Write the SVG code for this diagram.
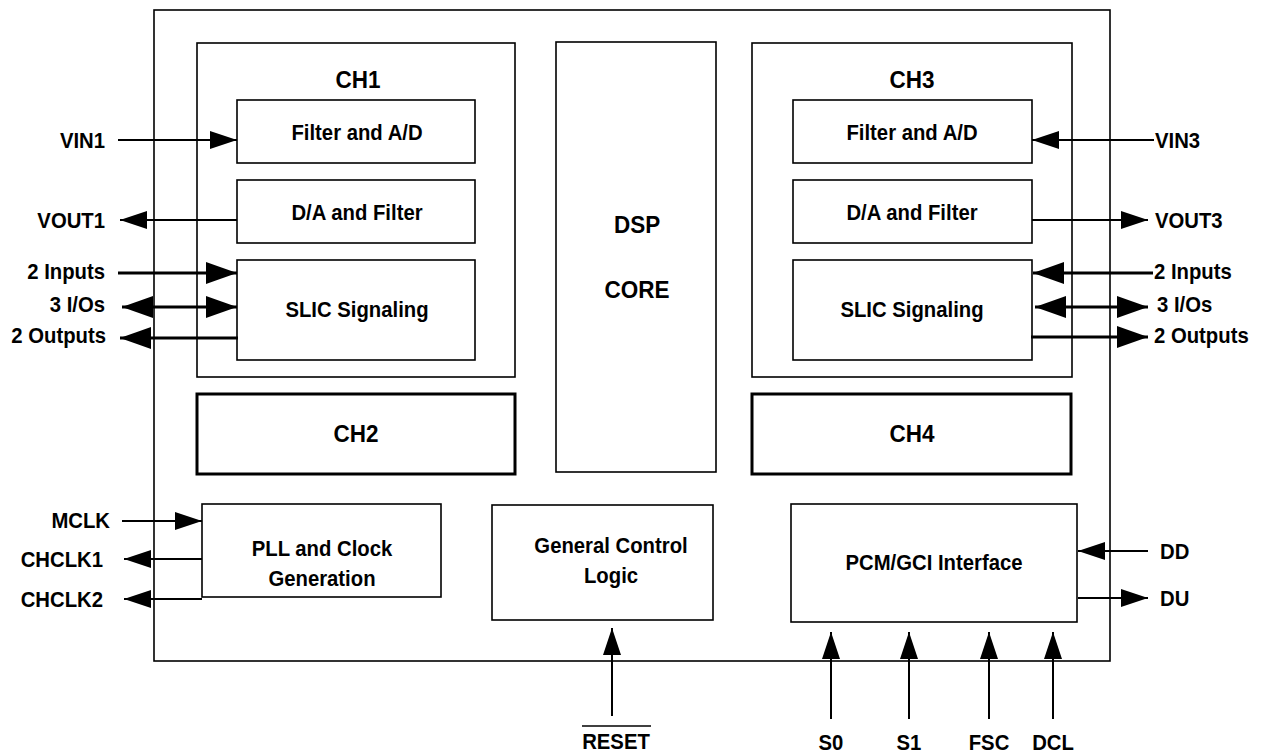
<svg xmlns="http://www.w3.org/2000/svg" width="1270" height="753" viewBox="0 0 1270 753">
<defs>
<style>
.box{fill:#fff;stroke:#000;stroke-width:1.6}
.tbox{fill:#fff;stroke:#000;stroke-width:3}
.t{font-family:"Liberation Sans",Arial,sans-serif;font-weight:bold;font-size:20.3px;fill:#000}
.big{font-size:22.5px}
.c{text-anchor:middle}
.r{text-anchor:end}
.ln{stroke:#000;stroke-width:2;fill:none}
.thk{stroke:#000;stroke-width:3;fill:none}
</style>
<marker id="ah" markerUnits="userSpaceOnUse" markerWidth="28" markerHeight="19" refX="27" refY="9" orient="auto-start-reverse" viewBox="0 0 28 19">
<path d="M0,0 L27,9 L0,18 z" fill="#000"/>
</marker>
<marker id="ahb" markerUnits="userSpaceOnUse" markerWidth="32" markerHeight="23" refX="31" refY="11" orient="auto-start-reverse" viewBox="0 0 32 23">
<path d="M0,0 L31,11 L0,22 z" fill="#000"/>
</marker>
</defs>
<rect width="1270" height="753" fill="#fff"/>

<g id="chip"><rect class="box" x="154" y="10" width="956" height="651"/></g>

<g id="ch1">
<rect class="box" x="197" y="43" width="318" height="334"/>
<text class="t big c" transform="matrix(1,0,0,1.1,358,88)">CH1</text>
</g>
<g id="ch1-filter-ad"><rect class="box" x="237" y="100" width="238" height="63"/><text class="t c" transform="matrix(1,0,0,1.1,357,140)">Filter and A/D</text></g>
<g id="ch1-da-filter"><rect class="box" x="237" y="180" width="238" height="63"/><text class="t c" transform="matrix(1,0,0,1.1,357,220)">D/A and Filter</text></g>
<g id="ch1-slic"><rect class="box" x="237" y="260" width="238" height="100"/><text class="t c" transform="matrix(1,0,0,1.1,357,317)">SLIC Signaling</text></g>

<g id="ch2"><rect class="tbox" x="197" y="394" width="318" height="80"/><text class="t big c" transform="matrix(1,0,0,1.1,356,442)">CH2</text></g>

<g id="dsp"><rect class="box" x="556" y="42" width="160" height="430"/>
<text class="t big c" transform="matrix(1,0,0,1.1,637,233)">DSP</text>
<text class="t big c" transform="matrix(1,0,0,1.1,637,298)">CORE</text></g>

<g id="ch3">
<rect class="box" x="752" y="43" width="320" height="334"/>
<text class="t big c" transform="matrix(1,0,0,1.1,912,88)">CH3</text>
</g>
<g id="ch3-filter-ad"><rect class="box" x="793" y="100" width="239" height="63"/><text class="t c" transform="matrix(1,0,0,1.1,912,140)">Filter and A/D</text></g>
<g id="ch3-da-filter"><rect class="box" x="793" y="180" width="239" height="63"/><text class="t c" transform="matrix(1,0,0,1.1,912,220)">D/A and Filter</text></g>
<g id="ch3-slic"><rect class="box" x="793" y="260" width="239" height="100"/><text class="t c" transform="matrix(1,0,0,1.1,912,317)">SLIC Signaling</text></g>

<g id="ch4"><rect class="tbox" x="752" y="394" width="319" height="80"/><text class="t big c" transform="matrix(1,0,0,1.1,912,442)">CH4</text></g>

<g id="pll"><rect class="box" x="202" y="504" width="239" height="93"/>
<text class="t c" transform="matrix(1,0,0,1.1,322,556)">PLL and Clock</text>
<text class="t c" transform="matrix(1,0,0,1.1,322,586)">Generation</text></g>

<g id="gcl"><rect class="box" x="492" y="505" width="221" height="115"/>
<text class="t c" transform="matrix(1,0,0,1.1,611,553)">General Control</text>
<text class="t c" transform="matrix(1,0,0,1.1,611,583)">Logic</text></g>

<g id="pcm"><rect class="box" x="791" y="504" width="286" height="118"/>
<text class="t c" transform="matrix(1,0,0,1.1,934,570)">PCM/GCI Interface</text></g>

<g id="connectors">
<line class="ln" x1="118" y1="140" x2="237" y2="140" marker-end="url(#ah)"/>
<line class="ln" x1="237" y1="220" x2="120" y2="220" marker-end="url(#ah)"/>
<line class="thk" x1="118" y1="273" x2="237" y2="273" marker-end="url(#ahb)"/>
<line class="thk" x1="122" y1="307" x2="237" y2="307" marker-start="url(#ahb)" marker-end="url(#ahb)"/>
<line class="thk" x1="238" y1="338" x2="120" y2="338" marker-end="url(#ahb)"/>

<line class="ln" x1="1154" y1="140" x2="1032" y2="140" marker-end="url(#ah)"/>
<line class="ln" x1="1032" y1="220" x2="1148" y2="220" marker-end="url(#ah)"/>
<line class="thk" x1="1153" y1="273" x2="1033" y2="273" marker-end="url(#ahb)"/>
<line class="thk" x1="1035" y1="307" x2="1148" y2="307" marker-start="url(#ahb)" marker-end="url(#ahb)"/>
<line class="thk" x1="1031" y1="337" x2="1148" y2="337" marker-end="url(#ahb)"/>

<line class="ln" x1="122" y1="521" x2="202" y2="521" marker-end="url(#ah)"/>
<line class="ln" x1="202" y1="559" x2="124" y2="559" marker-end="url(#ah)"/>
<line class="ln" x1="202" y1="599" x2="124" y2="599" marker-end="url(#ah)"/>

<line class="ln" x1="1148" y1="551" x2="1078" y2="551" marker-end="url(#ah)"/>
<line class="ln" x1="1078" y1="598" x2="1148" y2="598" marker-end="url(#ah)"/>

<line class="ln" x1="612" y1="716" x2="612" y2="628" marker-end="url(#ah)"/>
<line class="ln" x1="831" y1="719" x2="831" y2="632" marker-end="url(#ah)"/>
<line class="ln" x1="909" y1="719" x2="909" y2="632" marker-end="url(#ah)"/>
<line class="ln" x1="989" y1="719" x2="989" y2="632" marker-end="url(#ah)"/>
<line class="ln" x1="1053" y1="719" x2="1053" y2="632" marker-end="url(#ah)"/>
</g>

<g id="labels">
<text class="t r" transform="matrix(1,0,0,1.1,105,148)">VIN1</text>
<text class="t r" transform="matrix(1,0,0,1.1,105,228)">VOUT1</text>
<text class="t r" transform="matrix(1,0,0,1.1,105,279)">2 Inputs</text>
<text class="t r" transform="matrix(1,0,0,1.1,105,312)">3 I/Os</text>
<text class="t r" transform="matrix(1,0,0,1.1,106,343)">2 Outputs</text>
<text class="t" transform="matrix(1,0,0,1.1,1155,148)">VIN3</text>
<text class="t" transform="matrix(1,0,0,1.1,1155,228)">VOUT3</text>
<text class="t" transform="matrix(1,0,0,1.1,1154,279)">2 Inputs</text>
<text class="t" transform="matrix(1,0,0,1.1,1157,312)">3 I/Os</text>
<text class="t" transform="matrix(1,0,0,1.1,1154,343)">2 Outputs</text>
<text class="t r" transform="matrix(1,0,0,1.1,110,528)">MCLK</text>
<text class="t r" transform="matrix(1,0,0,1.1,103,567)">CHCLK1</text>
<text class="t r" transform="matrix(1,0,0,1.1,103,607)">CHCLK2</text>
<text class="t" transform="matrix(1,0,0,1.1,1160,559)">DD</text>
<text class="t" transform="matrix(1,0,0,1.1,1160,606)">DU</text>
<text class="t c" transform="matrix(1,0,0,1.1,616,749)">RESET</text>
<line x1="582" y1="726" x2="651" y2="726" stroke="#000" stroke-width="1.6"/>
<text class="t c" transform="matrix(1,0,0,1.1,831,750)">S0</text>
<text class="t c" transform="matrix(1,0,0,1.1,909,750)">S1</text>
<text class="t c" transform="matrix(1,0,0,1.1,989,750)">FSC</text>
<text class="t c" transform="matrix(1,0,0,1.1,1053,750)">DCL</text>
</g>
</svg>
